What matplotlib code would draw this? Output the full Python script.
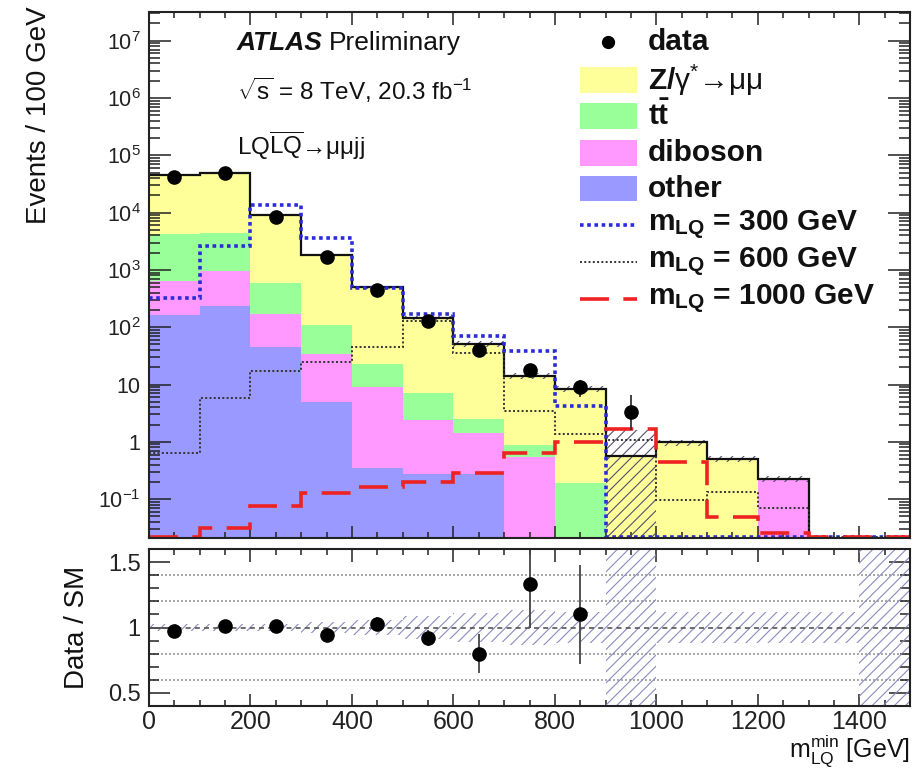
import numpy as np
import matplotlib
matplotlib.use("Agg")
import matplotlib.pyplot as plt
from matplotlib.patches import Rectangle
from matplotlib.lines import Line2D
from matplotlib.ticker import FixedLocator, FixedFormatter, MultipleLocator, LogLocator, NullFormatter

plt.rcParams["font.family"] = ["Liberation Sans", "DejaVu Sans"]
plt.rcParams["mathtext.fontset"] = "custom"
plt.rcParams["mathtext.rm"] = "Liberation Sans"
plt.rcParams["mathtext.it"] = "Liberation Sans"
plt.rcParams["mathtext.bf"] = "Liberation Sans:bold"
plt.rcParams["mathtext.sf"] = "Liberation Sans"
plt.rcParams["hatch.linewidth"] = 0.8

# ---------------------------------------------------------------- data
bin_edges = np.arange(0, 1600, 100)          # m_LQ^min bins [GeV]

# background components per bin (events / 100 GeV)
bkg_other   = [166, 236, 45, 5.0, 0.35, 0.27, 0.27, 0, 0, 0, 0, 0, 0, 0, 0]
bkg_diboson = [464, 704, 126, 29.5, 8.6, 2.1, 1.15, 0.55, 0, 0, 0, 0, 0.225, 0, 0]
bkg_ttbar   = [3670, 3460, 429, 75, 14, 4.7, 1.05, 0.33, 0.19, 0, 0, 0, 0, 0, 0]
bkg_zjets   = [41700, 45600, 8300, 1720, 471, 137, 49, 13.3, 8.1, 0.57, 0.98, 0.50, 0, 0, 0]

# relative uncertainty on the SM prediction (down / up)
unc_dn = [0.03, 0.03, 0.03, 0.04, 0.06, 0.09, 0.11, 0.13, 0.12, 1.00, 0.12, 0.12, 0.12, 0.12, 1.0]
unc_up = [0.03, 0.03, 0.03, 0.04, 0.06, 0.09, 0.11, 0.13, 0.12, 1.85, 0.12, 0.12, 0.12, 0.12, 1.0]

# observed data
data_x      = [50, 150, 250, 350, 450, 550, 650, 750, 850, 950]
data_y      = [42000, 50000, 8500, 1700, 450, 130, 40, 18, 9, 3.3]
data_err_lo = [205, 224, 92, 41, 21, 11, 6.3, 4.2, 3.0, 1.7]
data_err_hi = [205, 224, 92, 41, 21, 11, 6.3, 4.2, 3.0, 3.3]

# signal hypotheses
lq300  = [322, 2570, 13400, 3600, 480, 169, 69, 39, 4.3, 0, 0, 0, 0, 0, 0]
lq600  = [0.63, 5.9, 17.5, 25, 46, 130, 35, 3.4, 1.35, 1.08, 0.098, 0.132, 0.069, 0, 0]
lq1000 = [0, 0.031, 0.076, 0.127, 0.162, 0.203, 0.29, 0.64, 1.0, 1.66, 0.44, 0.048, 0.026, 0, 0]

# data / SM ratio
ratio_x   = [50, 150, 250, 350, 450, 550, 650, 750, 850]
ratio_y   = [0.97, 1.01, 1.01, 0.94, 1.03, 0.92, 0.80, 1.33, 1.10]
ratio_err = [0.005, 0.005, 0.011, 0.024, 0.05, 0.06, 0.15, 0.33, 0.38]

# ---------------------------------------------------------------- style
c_z, c_tt, c_vv, c_oth = "#ffff99", "#99ff99", "#ff99ff", "#9999ff"
c_text = "#111111"
ymin, ymax = 0.021, 3.2e7
floor = 1e-3

fig = plt.figure(figsize=(9.22, 7.70), dpi=100)
W, H = 922.0, 770.0
ax = fig.add_axes([149 / W, 1 - 538 / H, (910 - 149) / W, (538 - 11.7) / H])
rax = fig.add_axes([149 / W, 1 - 706 / H, (910 - 149) / W, (706 - 549) / H])

# ---------------------------------------------------------------- main panel
ax.set_yscale("log")
stack = [bkg_other, bkg_diboson, bkg_ttbar, bkg_zjets]
colors = [c_oth, c_vv, c_tt, c_z]
cum = np.cumsum(np.array(stack, dtype=float), axis=0)
total = cum[-1]
for level, col in zip(cum[::-1], colors[::-1]):
    ax.stairs(np.maximum(level, floor), bin_edges, baseline=floor, fill=True,
              facecolor=col, edgecolor="none", zorder=1)

band_lo = np.maximum(total * (1 - np.array(unc_dn)), floor)
band_hi = np.maximum(total * (1 + np.array(unc_up)), floor)
ax.stairs(band_hi, bin_edges, baseline=band_lo, fill=True, facecolor="none",
          edgecolor="#505070", hatch="///", linewidth=0, zorder=2)

ax.stairs(np.maximum(total, floor), bin_edges, baseline=None, color="#111111",
          linewidth=1.6, zorder=4)


def sig(v):
    v = np.array(v, dtype=float)
    return np.where(v > 0, v, ymin * 1.03)


ax.stairs(sig(lq300), bin_edges, baseline=None, color="#2b2bd9", linewidth=2.6,
          linestyle=(0, (1.0, 1.0)), zorder=5)
ax.stairs(sig(lq600), bin_edges, baseline=None, color="#333333", linewidth=1.4,
          linestyle=(0, (1.0, 1.2)), zorder=5)
ax.stairs(sig(lq1000), bin_edges, baseline=None, color="#ee2222", linewidth=2.6,
          linestyle=(0, (8.0, 4.0)), zorder=5)

ax.errorbar(data_x, data_y, yerr=[data_err_lo, data_err_hi], fmt="o", color="black",
            markersize=9.5, elinewidth=1.3, ecolor="#333333", capsize=0, zorder=6)

ax.set_xlim(0, 1500)
ax.set_ylim(ymin, ymax)

major_y = [1e-1, 1, 10, 1e2, 1e3, 1e4, 1e5, 1e6, 1e7]
major_lab = [r"$10^{-1}$", "1", "10", r"$10^{2}$", r"$10^{3}$", r"$10^{4}$",
             r"$10^{5}$", r"$10^{6}$", r"$10^{7}$"]
ax.yaxis.set_major_locator(FixedLocator(major_y))
ax.yaxis.set_major_formatter(FixedFormatter(major_lab))
ax.yaxis.set_minor_locator(LogLocator(base=10, subs=np.arange(2, 10), numticks=30))
ax.yaxis.set_minor_formatter(NullFormatter())
ax.xaxis.set_major_locator(MultipleLocator(200))
ax.xaxis.set_minor_locator(MultipleLocator(50))
ax.tick_params(which="both", direction="in", top=True, right=True, labelbottom=False,
               colors="#222222", width=1.1)
ax.tick_params(axis="x", which="major", length=9)
ax.tick_params(axis="x", which="minor", length=4.5)
ax.tick_params(axis="y", which="major", length=16, labelsize=15.5, pad=6)
ax.tick_params(axis="y", which="minor", length=8)
for sp in ax.spines.values():
    sp.set_linewidth(1.5)
    sp.set_color("#222222")
    sp.set_zorder(10)

ax.set_ylabel("Events / 100 GeV", fontsize=20, color=c_text, loc="top")
ax.yaxis.set_label_coords(-0.128, 1.01)

# header text
renderer = fig.canvas.get_renderer()
t_atlas = ax.text(0.1156, 0.927, "ATLAS", transform=ax.transAxes, fontsize=19,
                  color=c_text, va="baseline", ha="left",
                  fontweight="bold", fontstyle="italic")
bb = t_atlas.get_window_extent(renderer=renderer)
x_after = ax.transAxes.inverted().transform((bb.x1, bb.y0))[0]
ax.text(x_after + 0.008, 0.927, "Preliminary", transform=ax.transAxes, fontsize=19,
        color=c_text, va="baseline", ha="left")
ax.text(0.1156, 0.832, r"$\sqrt{s}$ = 8 TeV, 20.3 fb$^{-1}$", transform=ax.transAxes,
        fontsize=17.5, color=c_text, va="baseline", ha="left")
ax.text(0.1156, 0.728, r"LQ$\overline{\mathrm{LQ}}$→μμjj",
        transform=ax.transAxes, fontsize=17.5, color=c_text, va="baseline", ha="left")

# legend, drawn row by row
rows_y = [0.943, 0.870, 0.802, 0.731, 0.664, 0.595, 0.525, 0.455]
hx0, hx1, tx = 0.566, 0.641, 0.656
box_h = 0.049
leg_fs = 21.5
entries = [
    ("marker", None, "data"),
    ("box", c_z, r"Z/$\mathrm{\gamma}^{*}$→$\mathrm{\mu\mu}$"),
    ("box", c_tt, r"$\mathbf{t\bar{t}}$"),
    ("box", c_vv, "diboson"),
    ("box", c_oth, "other"),
    ("line", ("#2b2bd9", 2.6, (0, (1.0, 1.0))), r"$\mathbf{m_{LQ}}$ = 300 GeV"),
    ("line", ("#333333", 1.4, (0, (1.0, 1.2))), r"$\mathbf{m_{LQ}}$ = 600 GeV"),
    ("line", ("#ee2222", 2.6, (0, (8.0, 4.0))), r"$\mathbf{m_{LQ}}$ = 1000 GeV"),
]
for y, (kind, style, label) in zip(rows_y, entries):
    if kind == "marker":
        ax.add_line(Line2D([(hx0 + hx1) / 2], [y], marker="o", color="black",
                           markersize=8.5, transform=ax.transAxes, zorder=7))
    elif kind == "box":
        ax.add_patch(Rectangle((hx0, y - box_h / 2), hx1 - hx0, box_h,
                               transform=ax.transAxes, facecolor=style,
                               edgecolor="none", zorder=7))
    else:
        col, lw, ls = style
        ax.add_line(Line2D([hx0, hx1], [y, y], color=col, linewidth=lw,
                           linestyle=ls, transform=ax.transAxes, zorder=7))
    ax.text(tx, y, label, transform=ax.transAxes, fontsize=leg_fs, fontweight="bold",
            color=c_text, va="center", ha="left", zorder=7)

# ---------------------------------------------------------------- ratio panel
for g in [0.6, 0.8, 1.2, 1.4]:
    rax.axhline(g, color="#9a9a9a", linewidth=1.2, linestyle=(0, (1.2, 1.2)), zorder=1)
rax.axhline(1.0, color="#555555", linewidth=1.2, linestyle=(0, (3.0, 2.5)), zorder=3)

rax.stairs(1 + np.array(unc_up), bin_edges, baseline=1 - np.array(unc_dn), fill=True,
           facecolor="none", edgecolor="#8a8ac0", hatch="///", linewidth=0, zorder=2)

rax.errorbar(ratio_x, ratio_y, yerr=ratio_err, fmt="o", color="black", markersize=9.5,
             elinewidth=1.3, ecolor="#444444", capsize=0, zorder=5)

rax.set_xlim(0, 1500)
rax.set_ylim(0.4, 1.6)
rax.yaxis.set_major_locator(FixedLocator([0.5, 1.0, 1.5]))
rax.yaxis.set_major_formatter(FixedFormatter(["0.5", "1", "1.5"]))
rax.yaxis.set_minor_locator(MultipleLocator(0.1))
rax.xaxis.set_major_locator(MultipleLocator(200))
rax.xaxis.set_minor_locator(MultipleLocator(50))
rax.tick_params(which="both", direction="in", top=True, right=True,
                colors="#222222", width=1.1)
rax.tick_params(axis="x", which="major", length=9, labelsize=18, pad=3)
rax.tick_params(axis="x", which="minor", length=4.5)
rax.tick_params(axis="y", which="major", length=15, labelsize=17, pad=6)
rax.tick_params(axis="y", which="minor", length=7.5)
for sp in rax.spines.values():
    sp.set_linewidth(1.5)
    sp.set_color("#222222")
    sp.set_zorder(10)

rax.set_ylabel("Data / SM", fontsize=20, color=c_text)
rax.yaxis.set_label_coords(-0.078, 0.5)

# axis title placed in the bottom-right corner of the figure
fig.text(910 / W, 1 / H, r"m$_{\mathrm{LQ}}^{\mathrm{min}}$ [GeV]", fontsize=18,
         color=c_text, ha="right", va="bottom")

fig.savefig("out.png", dpi=100)
